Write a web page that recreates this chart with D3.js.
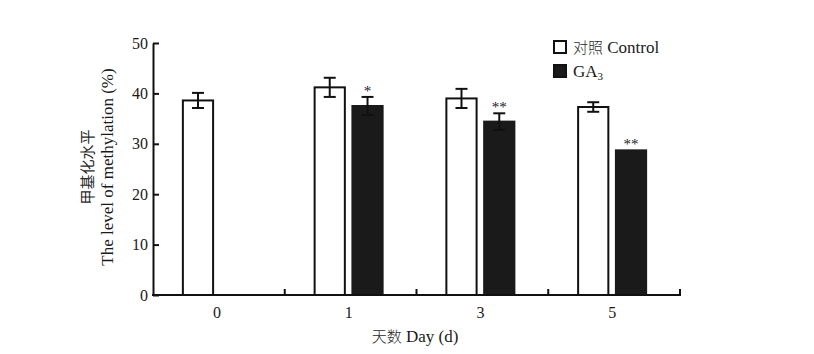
<!DOCTYPE html>
<html>
<head>
<meta charset="utf-8">
<script src="https://cdn.jsdelivr.net/npm/d3@7"></script>
<style>
  body { margin: 0; background: #fff; }
  text { font-family: "Liberation Serif", "Noto Sans CJK SC", serif; fill: #1a1a1a; }
  .cjk { font-family: "Noto Sans CJK SC", sans-serif; font-weight: 300; fill: #2a2a2a; }
</style>
</head>
<body>
<script>
var days = ["0", "1", "3", "5"];
var series = ["control", "ga3"];
var controlMean = [38.6, 41.2, 39.0, 37.3];
var controlErr = [1.5, 1.9, 1.9, 0.95];
var ga3Mean = [null, 37.5, 34.4, 28.7];
var ga3Err = [null, 1.8, 1.65, 0];
var ga3Marks = ["", "*", "**", "**"];
var yTicks = [0, 10, 20, 30, 40, 50];

var width = 814, height = 354;
var lineThickness = 2;

var svg = d3.select("body").append("svg")
    .attr("width", width)
    .attr("height", height);

var x = d3.scaleBand()
    .domain(days)
    .range([153, 680])
    .padding(0);

var x1 = d3.scaleBand()
    .domain(series)
    .range([0, 68])
    .paddingInner(0.2);

var y = d3.scaleLinear()
    .domain([0, 50])
    .range([295, 43]);

function pairLeft(d) {
    return x(d) + x.bandwidth() / 2 - 36;
}

// mixed chinese / latin label
function mixedText(sel, cn, en, cnSize, enSize) {
    sel.append("tspan").attr("class", "cjk").attr("font-size", cnSize).text(cn);
    sel.append("tspan").attr("font-size", enSize).text(" " + en);
}

// bars
var rows = [];
days.forEach(function (d, i) {
    rows.push({ day: d, key: "control", v: controlMean[i], e: controlErr[i] });
    if (ga3Mean[i] != null) {
        rows.push({ day: d, key: "ga3", v: ga3Mean[i], e: ga3Err[i], mark: ga3Marks[i] });
    }
});

svg.selectAll("rect.bar")
    .data(rows)
    .enter().append("rect")
    .attr("class", "bar")
    .attr("x", function (r) { return pairLeft(r.day) + x1(r.key); })
    .attr("y", function (r) { return y(r.v); })
    .attr("width", x1.bandwidth())
    .attr("height", function (r) { return y(0) - y(r.v); })
    .attr("fill", function (r) { return r.key == "control" ? "#fff" : "#1a1a1a"; })
    .attr("stroke", function (r) { return r.key == "control" ? "#111" : "#1a1a1a"; })
    .attr("stroke-width", lineThickness);

// error bars
var errRows = rows.filter(function (r) { return r.e > 0; });
var eb = svg.selectAll("g.err")
    .data(errRows)
    .enter().append("g")
    .attr("class", "err")
    .attr("stroke", "#111")
    .attr("stroke-width", lineThickness);

function cx(r) { return pairLeft(r.day) + x1(r.key) + x1.bandwidth() / 2; }

eb.append("line")
    .attr("x1", cx).attr("x2", cx)
    .attr("y1", function (r) { return y(r.v + r.e); })
    .attr("y2", function (r) { return y(r.v - r.e); });
eb.append("line")
    .attr("x1", function (r) { return cx(r) - 6; })
    .attr("x2", function (r) { return cx(r) + 6; })
    .attr("y1", function (r) { return y(r.v + r.e); })
    .attr("y2", function (r) { return y(r.v + r.e); });
eb.append("line")
    .attr("x1", function (r) { return cx(r) - 6; })
    .attr("x2", function (r) { return cx(r) + 6; })
    .attr("y1", function (r) { return y(r.v - r.e); })
    .attr("y2", function (r) { return y(r.v - r.e); });

// significance marks
svg.selectAll("text.sig")
    .data(rows.filter(function (r) { return r.mark; }))
    .enter().append("text")
    .attr("class", "sig")
    .attr("x", cx)
    .attr("y", function (r) { return y(r.v + r.e) - 1; })
    .attr("text-anchor", "middle")
    .attr("font-size", 15)
    .attr("fill", "#444")
    .text(function (r) { return r.mark; });

// y axis
var yAxis = svg.append("g")
    .attr("transform", "translate(153,0)")
    .call(d3.axisLeft(y).tickValues(yTicks).tickSizeInner(-6).tickSizeOuter(0).tickPadding(5));
yAxis.select(".domain").attr("stroke", "#111").attr("stroke-width", lineThickness);
yAxis.selectAll(".tick line").attr("stroke", "#111").attr("stroke-width", lineThickness);
yAxis.selectAll(".tick text").attr("font-size", 16).attr("fill", "#1a1a1a")
    .style("font-family", "Liberation Serif");

// x axis
var xAxisY = y(0);
svg.append("line")
    .attr("x1", 152).attr("x2", 681)
    .attr("y1", xAxisY).attr("y2", xAxisY)
    .attr("stroke", "#111").attr("stroke-width", lineThickness);

svg.selectAll("line.xtick")
    .data(days.slice(1).concat(["end"]))
    .enter().append("line")
    .attr("class", "xtick")
    .attr("x1", function (d) { return d == "end" ? 680 : x(d); })
    .attr("x2", function (d) { return d == "end" ? 680 : x(d); })
    .attr("y1", xAxisY).attr("y2", xAxisY - 6)
    .attr("stroke", "#111").attr("stroke-width", lineThickness);

svg.selectAll("text.xlab")
    .data(days)
    .enter().append("text")
    .attr("class", "xlab")
    .attr("x", function (d) { return pairLeft(d) + 34; })
    .attr("y", 318)
    .attr("text-anchor", "middle")
    .attr("font-size", 16)
    .text(function (d) { return d; });

var xTitle = svg.append("text")
    .attr("x", 415)
    .attr("y", 342)
    .attr("text-anchor", "middle");
mixedText(xTitle, "天数", "Day (d)", 15, 17);

// y axis title
var yTitle = svg.append("text")
    .attr("transform", "translate(0,167) rotate(-90)")
    .attr("text-anchor", "middle");
yTitle.append("tspan")
    .attr("font-size", 15)
    .attr("x", 0).attr("y", 93)
    .style("font-family", "Noto Sans CJK SC")
    .style("fill", "#2a2a2a")
    .text("甲基化水平");
yTitle.append("tspan").attr("font-size", 17)
    .attr("x", 0).attr("y", 113).text("The level of methylation (%)");

// legend
var legend = svg.append("g").attr("transform", "translate(554,41)");
var legendItems = [
    { fill: "#fff", cn: "对照", en: "Control" },
    { fill: "#1a1a1a", cn: "", en: "GA" }
];
var li = legend.selectAll("g")
    .data(legendItems)
    .enter().append("g")
    .attr("transform", function (d, i) { return "translate(0," + i * 24 + ")"; });
li.append("rect")
    .attr("width", 12).attr("height", 12)
    .attr("fill", function (d) { return d.fill; })
    .attr("stroke", "#111")
    .attr("stroke-width", lineThickness);
li.append("text")
    .attr("x", 19)
    .attr("y", 12)
    .each(function (d) {
        var t = d3.select(this);
        if (d.cn) {
            mixedText(t, d.cn, d.en, 15, 17);
        } else {
            t.append("tspan").attr("font-size", 17).text(d.en);
            t.append("tspan").attr("font-size", 11).attr("dy", 3).text("3");
        }
    });
</script>
</body>
</html>
